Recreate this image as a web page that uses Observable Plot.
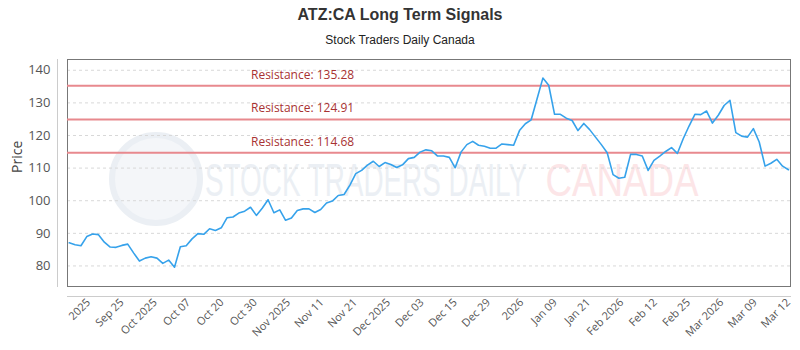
<!DOCTYPE html>
<html><head><meta charset="utf-8">
<script src="https://cdn.jsdelivr.net/npm/d3@7"></script>
<script src="https://cdn.jsdelivr.net/npm/@observablehq/plot@0.6"></script>
<style>
body{margin:0;background:#fff;font-family:"Liberation Sans",Arial,sans-serif;}
#wrap{width:800px;height:350px;overflow:hidden}
.title{height:30px;line-height:30px;text-align:center;font-weight:bold;font-size:16px;color:#333}
.sub{height:20px;line-height:20px;text-align:center;font-size:12px;color:#222}
</style></head><body><div id="wrap"><div class="title">ATZ:CA Long Term Signals</div><div class="sub">Stock Traders Daily Canada</div><div id="chart"></div></div>
<script>
const prices = [
 87.1, 86.5, 86.2, 89.0, 89.8, 89.6, 87.3, 85.8, 85.7, 86.3,
 86.7, 84.0, 81.5, 82.4, 82.8, 82.4, 80.8, 81.8, 79.6, 85.9,
 86.2, 88.3, 89.9, 89.7, 91.4, 90.9, 91.7, 94.8, 95.0, 96.2,
 96.8, 98.0, 95.5, 97.7, 100.3, 96.3, 97.2, 94.0, 94.7, 97.0,
 97.5, 97.5, 96.4, 97.3, 99.3, 99.9, 101.6, 101.9, 104.8, 108.3,
 109.3, 110.9, 112.1, 110.5, 111.7, 111.1, 110.2, 111.0, 112.9, 113.3,
 114.9, 115.6, 115.3, 113.7, 113.7, 113.3, 110.1, 114.9, 117.2, 118.2,
 117.0, 116.7, 116.1, 116.1, 117.4, 117.2, 117.0, 121.5, 123.6, 124.8,
 131.2, 137.6, 135.4, 126.5, 126.5, 125.3, 124.6, 121.5, 123.7, 121.8,
 119.5, 117.2, 114.7, 108.0, 106.9, 107.2, 114.2, 114.2, 113.7, 109.3,
 112.4, 113.7, 115.1, 116.3, 114.5, 119.0, 122.9, 126.5, 126.4, 127.5,
 123.8, 126.2, 129.2, 130.8, 120.9, 119.8, 119.5, 122.1, 118.0, 110.6,
 111.5, 112.7, 110.6, 109.5
];
const tickLabels = ["2025","Sep 25","Oct 2025","Oct 07","Oct 20","Oct 30","Nov 2025","Nov 11","Nov 21","Dec 2025","Dec 03","Dec 15","Dec 29","2026","Jan 09","Jan 21","Feb 2026","Feb 12","Feb 25","Mar 2026","Mar 09","Mar 12"];
const resistanceLevels = [135.28, 124.91, 114.68];
const yTicks = [80, 90, 100, 110, 120, 130, 140];
const watermark = ["STOCK TRADERS DAILY", "CANADA"];

const data = prices.map((p, i) => ({i, p}));
const last = prices.length - 1;
const tickStep = 5.7;
const tickPositions = tickLabels.map((_, k) => last - (tickLabels.length - 1 - k) * tickStep);
const labelMap = new Map(tickPositions.map((t, k) => [t, tickLabels[k]]));

const chart = Plot.plot({
  width: 800, height: 300,
  marginTop: 9, marginBottom: 64, marginLeft: 67, marginRight: 10,
  style: {fontFamily: "'Open Sans', sans-serif", background: "#fff"},
  x: {domain: [-0.3, last + 0.35], axis: null},
  y: {domain: [73.7, 143.3], axis: null},
  marks: [
    Plot.dot([0], {frameAnchor: "middle", dx: -273, dy: 6, r: 44, fill: "#f4f6f9", stroke: "#ebeff4", strokeWidth: 6}),
    Plot.text([watermark[0]], {frameAnchor: "middle", dx: -63, dy: 8, fontSize: 26, fill: "#ebeff4", fontFamily: "'Liberation Sans'"}),
    Plot.text([watermark[1]], {frameAnchor: "middle", dx: 193, dy: 8, fontSize: 26, fill: "#fce5e7", fontFamily: "'Liberation Sans'"}),
    Plot.gridY(yTicks, {stroke: "#d8d8d8", strokeOpacity: 1, strokeDasharray: "3,3"}),
    Plot.frame({stroke: "#777"}),
    Plot.frame({anchor: "left", dx: -10, stroke: "#ccc"}),
    Plot.frame({anchor: "bottom", dy: 10, stroke: "#ccc"}),
    Plot.ruleY(resistanceLevels, {stroke: "#e8898e", strokeWidth: 2}),
    Plot.text(resistanceLevels, {x: () => 39.9, y: d => d, text: d => `Resistance: ${d.toFixed(2)}`, dy: -11, fill: "#a83232", fontSize: 12, fontFamily: "'Open Sans', sans-serif"}),
    Plot.line(data, {x: "i", y: "p", stroke: "#36a2eb", strokeWidth: 1.6}),
    Plot.axisY(yTicks, {tickSize: 0, tickPadding: 17, fontSize: 13, color: "#555", label: null}),
    Plot.axisX(tickPositions, {tickSize: 0, tickPadding: 14, tickRotate: -45, fontSize: 11, color: "#555", label: null, tickFormat: d => labelMap.get(d)}),
    Plot.text(["Price"], {frameAnchor: "left", dx: -50, rotate: -90, fontSize: 14, fill: "#444"})
  ]
});
document.getElementById("chart").appendChild(chart);
const wmLen = {"STOCK TRADERS DAILY": 322, "CANADA": 153};
chart.querySelectorAll("text").forEach(t => {
  const len = wmLen[t.textContent];
  if (len) {
    t.setAttribute("textLength", len);
    t.setAttribute("lengthAdjust", "spacingAndGlyphs");
    const b = t.getBBox();
    const cx = b.x + b.width / 2, cy = b.y + b.height / 2;
    const prev = t.getAttribute("transform") || "";
    t.setAttribute("transform", `${prev} translate(${cx},${cy}) scale(1,1.75) translate(${-cx},${-cy})`);
  }
});
</script>
</body></html>
